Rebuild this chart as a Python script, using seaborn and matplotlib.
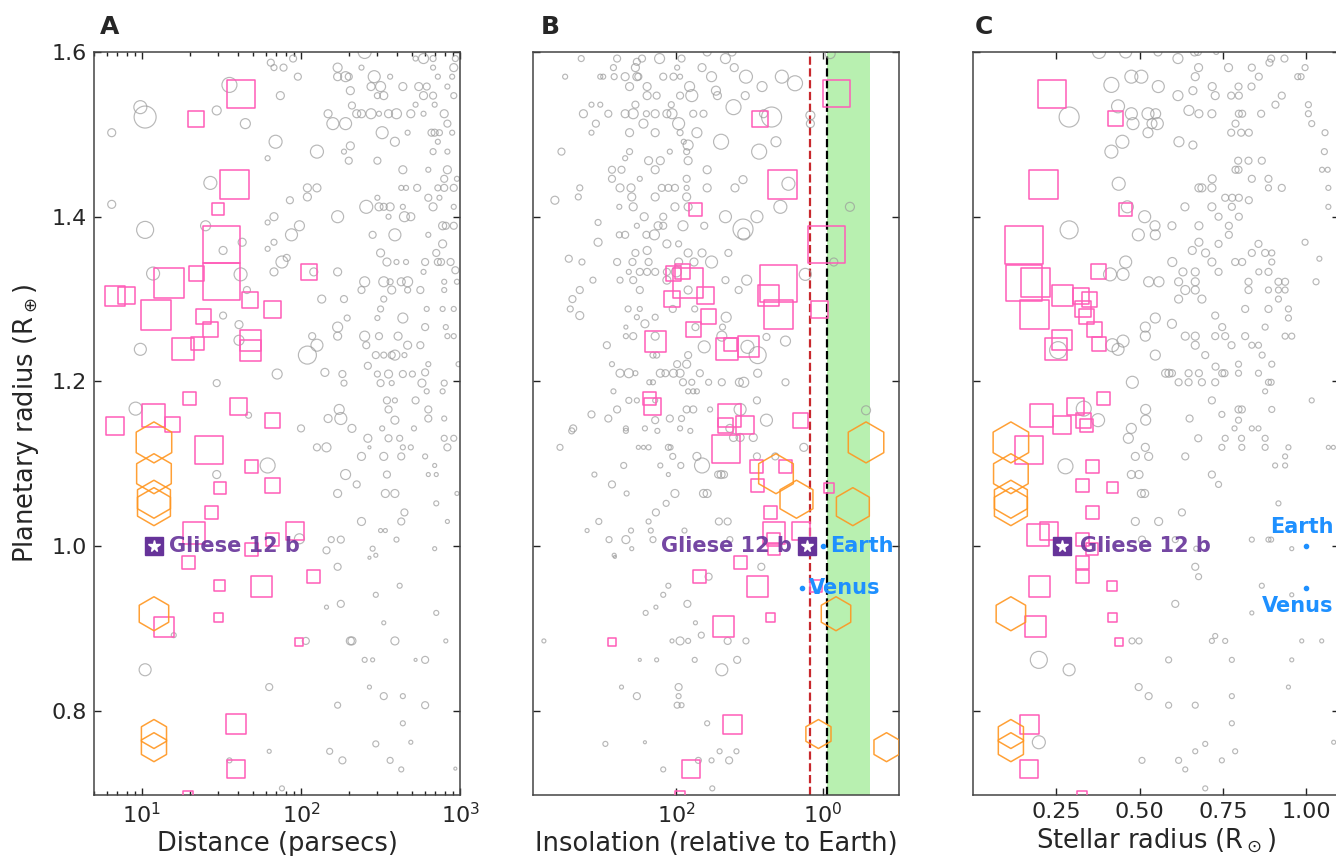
import numpy as np
import matplotlib
matplotlib.use("Agg")
import matplotlib.pyplot as plt
from matplotlib.ticker import NullLocator
import seaborn as sns

# ---------------- data ----------------
# panel A: known planets, log10 distance (pc), radius (R_earth), marker size class
a_logd = [1.81,1.83,1.89,1.95,1.98,1.87,2.40,2.23,2.23,2.28,
          2.30,2.38,2.46,2.56,2.44,2.50,2.48,2.52,2.31,2.64,
          2.74,2.79,2.77,2.83,2.72,2.83,2.96,2.97,2.86,2.95,
          2.77,2.83,2.72,2.84,2.96,2.92,2.17,2.20,2.28,2.32,
          2.35,2.38,2.44,2.49,2.55,2.60,2.69,2.77,2.90,2.92,
          1.84,2.10,1.65,1.47,1.55,0.99,1.02,0.81,1.79,2.51,
          2.59,2.67,2.82,2.84,2.87,2.95,2.31,2.27,2.30,2.48,
          2.83,2.92,2.86,2.64,2.80,2.92,2.90,2.98,2.63,2.66,
          2.73,2.86,2.90,2.96,2.04,2.10,2.04,1.93,1.43,0.81,
          2.48,2.80,2.87,2.41,2.49,2.52,2.56,2.64,2.83,2.96,
          2.23,2.55,2.65,2.69,1.83,1.79,1.99,1.94,1.02,1.40,
          1.51,1.63,2.89,2.91,2.96,2.45,2.59,2.80,1.83,1.79,
          1.88,1.91,1.83,2.23,2.50,2.54,2.60,2.66,2.78,2.89,
          2.85,2.86,2.88,2.94,2.97,2.77,1.07,1.62,2.08,2.13,
          2.27,2.40,2.38,2.52,2.56,2.57,2.63,2.67,2.67,2.75,
          2.90,2.90,2.98,2.29,2.52,2.50,2.48,2.64,2.79,2.89,
          2.96,1.66,1.51,1.61,2.23,2.23,2.07,2.10,2.04,2.40,
          2.49,2.61,2.67,2.75,2.78,2.91,2.92,2.96,2.41,2.47,
          2.52,2.57,2.59,2.65,2.42,2.80,2.99,0.99,1.61,1.85,
          2.15,2.26,2.27,2.48,2.55,2.64,2.70,2.78,2.76,2.79,
          2.90,2.89,1.47,2.50,2.57,0.96,1.67,2.24,2.17,2.25,
          2.54,2.59,2.55,2.72,2.80,2.80,2.90,2.59,2.51,2.71,
          2.32,2.00,2.42,2.55,2.62,2.90,2.96,2.10,2.16,2.43,
          2.64,2.69,2.92,2.38,2.52,2.63,2.78,1.79,1.47,2.28,
          2.54,2.80,2.85,2.84,2.35,2.23,2.53,2.59,2.85,2.98,
          2.65,2.38,2.63,2.92,2.50,2.53,2.19,2.25,1.99,2.60,
          2.16,2.45,2.47,2.43,2.84,2.23,2.62,2.47,2.16,2.25,
          2.52,2.85,2.31,2.32,2.59,2.91,2.03,1.20,1.02,2.40,
          2.45,2.72,2.78,1.80,2.43,2.52,2.64,2.23,2.78,2.64,
          2.69,2.47,1.80,2.18,2.26,2.56,2.63,2.97,1.55,1.88]
a_rad = [1.587,1.581,1.581,1.592,1.570,1.547,1.600,1.581,1.570,1.570,
         1.570,1.581,1.570,1.570,1.558,1.558,1.547,1.547,1.553,1.558,
         1.558,1.558,1.592,1.592,1.592,1.581,1.581,1.592,1.570,1.570,
         1.547,1.547,1.536,1.536,1.547,1.558,1.525,1.513,1.513,1.535,
         1.525,1.525,1.525,1.525,1.525,1.525,1.525,1.525,1.525,1.513,
         1.491,1.479,1.513,1.529,1.560,1.533,1.521,1.502,1.471,1.502,
         1.491,1.502,1.502,1.502,1.502,1.502,1.486,1.479,1.468,1.468,
         1.479,1.479,1.491,1.457,1.457,1.457,1.446,1.446,1.435,1.435,
         1.435,1.435,1.435,1.435,1.435,1.435,1.424,1.420,1.441,1.415,
         1.423,1.423,1.423,1.412,1.412,1.412,1.412,1.412,1.412,1.412,
         1.400,1.400,1.400,1.400,1.400,1.393,1.389,1.378,1.384,1.389,
         1.359,1.369,1.389,1.389,1.389,1.378,1.378,1.378,1.369,1.361,
         1.345,1.350,1.333,1.333,1.356,1.345,1.345,1.345,1.345,1.367,
         1.356,1.345,1.345,1.345,1.335,1.333,1.331,1.330,1.333,1.300,
         1.300,1.321,1.311,1.321,1.321,1.311,1.321,1.321,1.311,1.311,
         1.321,1.311,1.321,1.277,1.300,1.288,1.277,1.277,1.288,1.288,
         1.288,1.311,1.280,1.269,1.266,1.255,1.255,1.244,1.232,1.255,
         1.255,1.255,1.244,1.244,1.266,1.266,1.255,1.255,1.244,1.232,
         1.232,1.232,1.232,1.232,1.219,1.221,1.221,1.239,1.250,1.209,
         1.211,1.209,1.198,1.209,1.209,1.209,1.209,1.211,1.198,1.188,
         1.198,1.188,1.198,1.198,1.198,1.167,1.159,1.166,1.155,1.155,
         1.177,1.177,1.166,1.177,1.166,1.155,1.155,1.153,1.143,1.143,
         1.143,1.143,1.131,1.131,1.131,1.131,1.131,1.120,1.120,1.120,
         1.120,1.120,1.120,1.109,1.109,1.109,1.109,1.098,1.087,1.087,
         1.087,1.087,1.087,1.098,1.075,1.064,1.064,1.064,1.052,1.064,
         1.041,1.030,1.030,1.030,1.019,1.019,1.008,1.008,1.009,1.008,
         0.995,0.997,0.989,0.986,0.997,0.975,0.952,0.941,0.926,0.930,
         0.907,0.919,0.885,0.885,0.885,0.885,0.885,0.892,0.850,0.862,
         0.862,0.862,0.862,0.829,0.829,0.818,0.818,0.807,0.807,0.785,
         0.762,0.760,0.751,0.751,0.740,0.740,0.729,0.730,0.740,0.706]
a_size = [7,6,7,7,7,8,13,9,8,10, 7,5,12,5,8,10,6,8,8,8, 8,7,10,6,5,5,8,6,5,5,
          8,7,5,5,6,5,8,12,12,7, 8,8,10,5,8,10,8,5,8,7, 13,13,10,9,15,13,22,8,5,12,
          9,5,7,7,6,5,8,5,7,7, 6,5,5,8,5,8,7,5,5,5, 7,6,7,7,8,8,8,7,13,8,
          5,7,5,13,8,7,8,5,8,5, 12,5,10,8,8,5,10,12,17,10, 8,8,8,7,7,7,12,5,6,5,
          12,7,8,8,8,8,5,5,7,8, 7,7,7,7,7,5,13,13,8,8, 7,10,7,10,6,8,8,10,6,7,
          5,5,5,6,6,6,5,10,5,5, 5,7,7,8,10,8,7,12,18,10, 7,8,8,7,7,5,5,5,7,7,
          6,7,10,5,7,5,5,12,10,10, 8,7,6,6,8,7,6,7,8,5, 6,5,7,7,5,13,6,10,8,12,
          7,5,7,7,7,7,5,8,5,5, 8,7,8,7,6,6,6,7,9,3, 5,5,7,8,8,7,5,15,8,10,
          7,4,4,4,7,8,8,8,5,4, 7,8,7,4,4,4,6,7,10,5, 7,5,4,3,4,7,5,5,4,7,
          4,5,8,8,8,4,7,5,12,5, 4,3,7,7,4,7,5,6,7,5, 4,6,4,6,7,6,5,3,5,5]

# panel B: log10 insolation (S_earth)
b_logs = [3.30,2.81,2.54,2.47,2.23,1.93,1.58,1.33,1.24,-0.10,
          2.86,2.56,1.99,1.65,1.52,1.21,1.05,0.83,0.56,0.38,
          3.52,3.04,3.00,2.85,2.70,2.54,2.52,2.18,2.04,1.95,
          1.82,1.79,2.64,2.40,2.27,2.40,1.95,1.46,1.44,1.06,
          3.16,3.04,2.56,2.07,3.27,2.93,2.70,2.59,2.41,2.29,
          2.13,2.06,1.97,1.77,1.63,1.22,0.70,0.17,0.81,3.10,
          2.45,3.16,2.64,2.29,1.95,1.72,1.90,1.84,1.39,0.87,
          0.64,0.17,3.57,2.64,2.70,2.38,2.22,2.09,1.86,1.84,
          1.58,1.09,1.20,0.47,0.58,2.88,2.75,2.29,2.88,2.50,
          1.86,1.58,3.32,2.77,2.62,2.20,2.11,2.02,1.86,1.86,
          3.66,3.34,2.61,2.29,2.02,2.78,2.59,1.84,2.44,2.18,
          1.33,0.90,-0.37,3.07,2.54,2.25,2.18,1.91,1.62,1.09,
          1.08,2.78,2.70,2.41,2.30,2.13,1.97,3.07,3.47,3.29,
          2.81,2.60,2.56,2.40,2.38,1.97,1.84,1.76,1.65,1.52,
          1.29,-0.15,0.24,2.65,2.50,2.40,2.29,2.13,2.00,1.33,
          1.04,1.15,3.14,2.77,2.59,2.50,2.13,1.84,2.05,1.75,
          3.45,3.32,3.42,3.32,2.66,2.50,2.54,2.43,2.29,1.74,
          1.37,1.32,2.69,2.69,2.59,2.29,1.38,1.62,1.03,0.89,
          0.51,0.77,2.95,1.84,2.32,2.27,2.88,1.99,1.86,2.77,
          2.65,2.56,2.22,2.15,2.04,1.95,1.68,1.91,1.79,1.56,
          1.38,1.14,1.08,0.89,0.51,2.37,2.32,2.86,1.84,1.77,
          1.72,2.54,2.29,2.65,1.13,0.90,2.81,1.86,1.77,1.54,
          3.16,2.93,2.29,2.09,1.93,0.77,-0.59,3.41,2.69,2.43,
          1.95,1.27,3.43,2.69,2.26,1.81,3.59,2.52,2.45,2.38,
          2.11,2.08,1.72,1.65,1.22,1.13,0.95,0.90,0.65,0.26,
          2.72,2.22,2.05,1.94,3.12,2.11,1.43,1.39,1.35,2.88,
          2.68,2.02,1.63,1.58,2.14,2.28,3.06,2.38,1.42,1.30,
          3.22,2.62,2.35,1.89,2.92,2.69,2.32,1.27,2.61,2.85,
          2.84,0.84,1.56,2.11,2.18,2.28,2.42,1.85,1.74,1.66,
          3.81,2.06,1.95,1.84,1.30,1.05,2.50,2.27,1.75,1.17,
          1.38,2.75,1.97,2.54,1.97,1.99,1.93,1.58,2.97,2.43,
          1.41,1.18,1.70,1.52,1.28,2.18,1.51]
b_rad = [1.592,1.592,1.588,1.592,1.592,1.592,1.600,1.592,1.600,1.598,
         1.581,1.581,1.581,1.581,1.570,1.581,1.570,1.558,1.570,1.562,
         1.570,1.570,1.570,1.570,1.570,1.570,1.570,1.570,1.570,1.570,
         1.558,1.547,1.558,1.558,1.547,1.547,1.547,1.553,1.547,1.547,
         1.536,1.536,1.536,1.536,1.525,1.525,1.525,1.525,1.525,1.525,
         1.525,1.525,1.513,1.525,1.525,1.533,1.521,1.523,1.525,1.513,
         1.513,1.502,1.502,1.502,1.502,1.502,1.491,1.487,1.491,1.479,
         1.491,1.513,1.479,1.479,1.471,1.468,1.468,1.479,1.479,1.468,
         1.457,1.445,1.435,1.440,1.412,1.457,1.457,1.457,1.446,1.446,
         1.446,1.435,1.435,1.435,1.435,1.435,1.435,1.435,1.435,1.424,
         1.420,1.424,1.424,1.424,1.412,1.412,1.412,1.412,1.400,1.400,
         1.400,1.400,1.412,1.393,1.389,1.389,1.389,1.389,1.389,1.385,
         1.379,1.378,1.378,1.378,1.378,1.367,1.367,1.369,1.349,1.345,
         1.345,1.345,1.356,1.359,1.345,1.345,1.356,1.345,1.356,1.345,
         1.356,1.345,1.330,1.333,1.333,1.333,1.333,1.333,1.333,1.323,
         1.323,1.311,1.323,1.323,1.323,1.311,1.323,1.311,1.288,1.288,
         1.288,1.311,1.300,1.280,1.288,1.288,1.278,1.270,1.278,1.266,
         1.266,1.278,1.266,1.255,1.255,1.255,1.255,1.242,1.242,1.232,
         1.249,1.254,1.244,1.232,1.232,1.232,1.221,1.221,1.221,1.210,
         1.210,1.210,1.210,1.210,1.210,1.210,1.210,1.199,1.199,1.199,
         1.199,1.199,1.199,1.210,1.199,1.199,1.199,1.188,1.188,1.188,
         1.188,1.177,1.177,1.177,1.166,1.177,1.166,1.166,1.166,1.166,
         1.160,1.155,1.153,1.155,1.155,1.153,1.165,1.143,1.143,1.143,
         1.143,1.143,1.140,1.140,1.140,1.140,1.120,1.120,1.120,1.120,
         1.120,1.120,1.109,1.098,1.132,1.132,1.132,1.109,1.109,1.120,
         1.098,1.098,1.109,1.098,1.087,1.087,1.087,1.087,1.087,1.075,
         1.064,1.064,1.064,1.064,1.052,1.041,1.030,1.030,1.030,1.030,
         1.019,1.019,1.019,1.019,1.008,1.008,1.008,1.008,0.997,0.989,
         0.987,0.975,0.963,0.952,0.941,0.926,0.919,0.930,0.907,0.892,
         0.885,0.885,0.885,0.885,0.885,0.885,0.862,0.862,0.862,0.862,
         0.850,0.829,0.829,0.818,0.818,0.807,0.807,0.785,0.760,0.762,
         0.751,0.751,0.740,0.740,0.740,0.729,0.706]
b_size = [6,7,7,7,10,7,8,10,8,10, 6,8,5,8,10,8,13,10,13,15, 5,5,5,6,8,8,7,7,7,5,
          10,12,8,8,7,8,7,9,8,8, 5,5,7,6,8,7,8,10,6,8, 8,10,12,7,7,15,20,9,8,7,
          9,5,8,8,6,10,5,10,15,15, 10,8,7,6,5,8,8,5,6,8, 8,8,8,13,13,7,7,8,7,5,
          7,8,6,8,8,7,7,7,5,8, 8,6,8,8,8,5,8,8,8,7, 12,12,9,6,5,8,7,10,7,20,
          12,6,7,7,10,8,6,8,7,6, 7,7,7,8,7,8,8,8,8,12, 7,8,12,5,7,7,7,7,10,7,
          10,7,6,6,7,7,8,8,7,6, 6,7,7,8,6,5,5,8,6,7, 6,10,4,5,7,8,10,12,13,17,
          10,7,7,7,6,6,5,7,8,8, 9,5,8,7,8,8,7,7,6,6, 7,8,10,8,7,5,5,5,5,5,
          5,5,5,6,12,7,7,7,7,5, 7,7,7,7,6,12,9,7,5,5, 5,8,6,5,5,5,6,4,4,5,
          6,5,8,15,8,8,8,7,7,8, 6,5,6,6,5,4,7,8,7,7, 5,8,8,8,6,7,6,5,7,7,
          4,5,5,5,6,8,6,6,4,4, 3,7,7,5,5,4,5,7,4,6, 4,4,8,5,7,6,3,4,5,7,
          12,4,7,7,5,6,5,5,5,3, 5,5,6,5,7,5,5]

# panel C: stellar radius (R_sun)
c_rstar = [0.378,0.458,0.555,0.615,0.665,0.675,0.730,0.895,0.890,0.935,
           0.677,0.767,0.837,0.997,0.858,0.667,0.975,0.985,0.415,0.475,
           0.505,0.556,0.615,0.660,0.718,0.727,0.775,0.797,0.798,0.836,
           0.927,0.908,1.007,1.007,1.017,1.057,1.055,0.288,0.435,0.475,
           0.525,0.548,0.553,0.537,0.480,0.525,0.648,0.678,0.717,0.788,
           0.798,0.808,0.865,0.775,0.805,0.828,0.448,0.415,0.618,0.660,
           0.796,0.827,0.867,0.788,0.797,1.048,1.065,1.067,1.067,0.437,
           0.718,0.837,0.887,0.887,0.678,0.687,0.717,0.927,0.757,0.778,
           0.798,0.828,0.463,0.636,0.717,0.777,0.737,0.798,0.515,0.546,
           0.547,0.597,0.678,0.768,0.768,0.496,0.288,0.678,0.658,0.737,
           0.698,0.857,0.837,0.877,0.897,0.897,0.997,1.040,0.598,0.458,
           0.450,0.411,0.630,0.667,0.717,0.737,0.787,0.808,0.887,0.858,
           0.527,0.558,0.617,0.667,0.637,0.667,0.617,0.687,0.827,0.827,
           0.917,0.937,0.887,0.917,0.937,1.030,0.917,0.727,0.817,0.887,
           0.947,0.947,0.547,0.517,0.517,0.597,0.748,0.727,0.757,0.817,
           0.877,0.937,0.957,0.637,0.667,0.667,0.776,0.837,0.857,0.868,
           0.697,0.547,0.418,0.435,0.450,0.255,0.578,0.588,0.597,0.617,
           0.647,0.647,0.678,0.687,0.727,0.728,0.748,0.755,0.797,0.797,
           0.857,0.897,0.887,0.895,0.877,1.017,0.717,0.797,0.807,0.897,
           0.747,0.797,0.650,0.518,0.518,0.478,0.475,0.332,0.375,0.785,
           0.837,0.857,0.466,0.517,0.487,0.527,0.637,0.676,0.757,0.806,
           0.877,0.747,0.807,0.877,0.947,0.937,0.907,0.937,1.067,1.082,
           0.277,0.475,0.498,0.717,0.737,0.505,0.515,0.917,0.627,0.487,
           0.557,0.507,0.607,0.837,0.887,0.895,0.957,0.670,0.667,0.677,
           0.867,0.957,0.837,0.607,0.477,0.498,0.717,0.727,0.757,0.987,
           1.047,0.197,0.288,0.587,0.777,0.957,0.497,0.527,0.587,0.667,
           0.777,0.947,0.777,0.197,0.697,0.667,0.787,0.507,0.617,0.747,
           0.637,0.697,1.083]
c_rad = [1.600,1.600,1.600,1.592,1.600,1.600,1.600,1.592,1.587,1.592,
         1.581,1.581,1.581,1.581,1.570,1.570,1.570,1.570,1.560,1.570,
         1.570,1.558,1.547,1.553,1.558,1.547,1.547,1.558,1.547,1.558,
         1.547,1.536,1.536,1.525,1.513,1.502,1.479,1.521,1.534,1.525,
         1.525,1.525,1.513,1.513,1.513,1.502,1.529,1.525,1.525,1.513,
         1.525,1.525,1.525,1.502,1.502,1.502,1.491,1.479,1.491,1.487,
         1.468,1.468,1.468,1.457,1.457,1.457,1.457,1.435,1.412,1.440,
         1.446,1.446,1.446,1.435,1.435,1.435,1.435,1.435,1.423,1.423,
         1.423,1.420,1.412,1.412,1.412,1.412,1.400,1.400,1.400,1.389,
         1.378,1.389,1.389,1.389,1.378,1.378,1.384,1.369,1.359,1.367,
         1.356,1.367,1.356,1.356,1.356,1.345,1.369,1.349,1.345,1.345,
         1.330,1.330,1.333,1.333,1.345,1.333,1.345,1.345,1.333,1.333,
         1.321,1.321,1.321,1.321,1.311,1.311,1.300,1.300,1.321,1.311,
         1.321,1.321,1.311,1.311,1.311,1.321,1.300,1.280,1.288,1.288,
         1.288,1.277,1.277,1.266,1.255,1.270,1.266,1.255,1.255,1.255,
         1.266,1.255,1.255,1.255,1.255,1.244,1.244,1.244,1.244,1.232,
         1.232,1.232,1.244,1.239,1.249,1.238,1.210,1.210,1.210,1.199,
         1.210,1.199,1.210,1.199,1.199,1.218,1.210,1.210,1.221,1.210,
         1.210,1.221,1.199,1.199,1.188,1.177,1.177,1.166,1.166,1.166,
         1.160,1.153,1.155,1.166,1.153,1.199,1.143,1.167,1.153,1.143,
         1.143,1.143,1.131,1.120,1.109,1.109,1.109,1.131,1.131,1.131,
         1.131,1.120,1.120,1.120,1.120,1.109,1.098,1.098,1.120,1.120,
         1.097,1.087,1.087,1.087,1.075,1.064,1.064,1.052,1.041,1.030,
         1.030,1.008,1.008,1.008,1.008,1.008,0.997,0.997,0.975,0.963,
         0.952,0.941,0.919,0.930,0.885,0.885,0.885,0.891,0.885,0.885,
         0.885,0.862,0.850,0.862,0.862,0.862,0.829,0.818,0.807,0.807,
         0.818,0.829,0.785,0.762,0.760,0.751,0.751,0.740,0.740,0.740,
         0.729,0.706,0.762]
c_size = [13,12,8,10,8,7,5,7,7,7, 8,8,7,6,7,8,6,6,15,13, 13,12,10,8,8,8,7,7,7,7,
          7,7,6,6,6,6,6,20,13,12, 12,10,12,10,12,10,10,8,8,7, 7,7,7,7,7,7,13,13,10,8,
          7,7,7,7,7,5,5,5,5,13, 8,7,7,6,8,8,8,7,7,7, 7,7,12,8,8,7,7,7,12,10,
          10,8,8,7,7,12,18,8,8,7, 8,7,7,7,6,6,6,5,9,12, 12,13,8,8,8,7,7,7,7,6,
          10,10,8,8,9,8,8,8,7,7, 7,7,6,6,6,6,6,7,7,7, 6,6,10,10,10,9,7,7,7,7,
          6,6,6,8,8,8,7,6,6,6, 7,10,13,12,12,17,8,8,7,7, 7,7,7,7,7,7,7,7,6,6,
          6,6,6,6,5,5,7,7,7,6, 6,6,7,10,10,12,10,15,13,5, 5,5,10,8,8,8,7,7,6,6,
          6,6,6,6,5,5,5,5,4,4, 15,8,8,7,6,8,8,5,7,8, 8,7,6,5,5,5,4,5,7,6,
          5,4,4,7,6,6,5,5,5,4, 4,17,12,6,5,4,7,7,6,6, 5,4,5,13,5,5,5,6,6,5,
          5,5,4]

# small planets around M dwarfs (pink squares)
a_sq_logd = [1.62,1.34,1.58,1.48,1.50,1.50,1.17,1.34,2.05,0.83, 0.90,1.09,1.68,1.82,1.39,1.43,1.35,1.26,1.68,1.68,
             1.30,1.61,1.82,0.83,1.07,1.19,1.42,1.69,1.82,1.49, 1.44,1.33,1.96,1.82,1.69,1.29,2.08,1.49,1.75,1.48,
             1.14,1.99,1.59,1.59,1.29]
a_sq_rad = [1.549,1.519,1.439,1.409,1.366,1.321,1.320,1.331,1.333,1.304, 1.304,1.281,1.299,1.287,1.279,1.263,1.246,1.239,1.250,1.238,
            1.179,1.169,1.153,1.146,1.159,1.148,1.117,1.097,1.074,1.071, 1.041,1.016,1.019,1.008,0.996,0.980,0.963,0.952,0.951,0.914,
            0.902,0.884,0.784,0.729,0.697]
a_sq_size = [28,16,29,12,37,37,30,15,16,20, 17,30,16,17,15,15,13,22,21,21, 13,17,15,18,23,15,28,13,15,12,
             13,22,18,13,13,13,13,11,21,9, 20,8,20,18,10]
b_sq_logs = [-0.18,0.86,0.55,1.74,-0.05,0.61,0.74,0.61,0.05,1.84, 2.04,1.91,2.06,1.60,1.56,1.77,2.29,1.31,1.26,1.02,
             2.37,2.32,1.27,1.33,1.06,0.31,1.32,0.91,0.51,0.89, -0.08,0.71,0.67,0.30,0.68,0.67,1.12,0.10,1.69,0.89,
             0.71,1.36,2.88,1.23,1.80,1.95]
b_sq_rad = [1.549,1.519,1.439,1.409,1.366,1.319,1.304,1.281,1.287,1.319, 1.331,1.333,1.300,1.304,1.279,1.263,1.249,1.240,1.245,1.242,
            1.179,1.169,1.159,1.147,1.147,1.153,1.118,1.097,1.097,1.074, 1.071,1.041,1.016,1.019,1.008,0.996,0.980,0.952,0.963,0.951,
            0.914,0.902,0.884,0.784,0.729,0.697]
b_sq_size = [27,16,29,13,37,37,21,29,17,30, 15,15,16,17,15,15,21,22,13,21, 13,17,23,15,18,15,28,13,13,13,
             10,13,22,18,13,12,13,12,13,21, 9,21,8,19,18,10]
c_sq_rstar = [0.238,0.426,0.210,0.458,0.153,0.153,0.187,0.184,0.268,0.325, 0.348,0.330,0.340,0.363,0.377,0.268,0.248,0.377,0.390,0.307,
              0.205,0.268,0.330,0.340,0.168,0.357,0.328,0.418,0.358,0.195, 0.228,0.328,0.357,0.328,0.328,0.418,0.199,0.418,0.187,0.438,
              0.168,0.168,0.328]
c_sq_rad = [1.549,1.519,1.439,1.409,1.366,1.320,1.320,1.281,1.304,1.304, 1.300,1.288,1.279,1.263,1.246,1.250,1.240,1.333,1.179,1.169,
            1.159,1.147,1.152,1.147,1.117,1.097,1.074,1.071,1.041,1.013, 1.019,1.008,0.996,0.980,0.963,0.952,0.951,0.914,0.902,0.884,
            0.784,0.729,0.697]
c_sq_size = [28,15,29,13,38,36,29,29,21,16, 15,16,15,15,14,20,22,15,13,17, 23,18,15,13,28,13,13,11,13,22,
             18,13,12,13,13,10,21,9,21,8, 19,18,10]

# TRAPPIST-1 planets (orange hexagons)
trap_rad = [1.126, 1.088, 1.057, 1.048, 0.918, 0.772, 0.756]
trap_logs = [-0.59, 0.64, 0.36, -0.41, -0.18, 0.06, -0.87]
trap_size = [41, 40, 38, 38, 34, 29, 29]
trap_dist = 11.9
trap_rstar = 0.113

# Gliese 12 b, Earth, Venus
g12_dist, g12_insol, g12_rstar, g12_rad = 11.9, 1.62, 0.267, 1.0
earth_insol, earth_rad = 1.0, 1.0
venus_insol, venus_rad = 1.91, 0.949
sun_rstar = 1.0
hz_inner, hz_outer, recent_venus = 0.88, 0.225, 1.49

# ---------------- style ----------------
sns.set_style("ticks", {"xtick.direction": "in", "ytick.direction": "in"})
plt.rcParams["font.family"] = ["DejaVu Sans"]

GRAY = "#9a9a9a"
PINK = "#ff5cb8"
ORANGE = "#ff9620"
PURPLE = "#663399"
BLUE = "#1e90ff"
PX2PT = 0.72  # dpi 100


def msize(v):
    return (np.asarray(v, dtype=float) * PX2PT) ** 2


def draw_points(ax, gx, gy, gs, qx, qy, qs, hx, hy, hs):
    sns.scatterplot(x=gx, y=gy, s=msize(gs), marker="o", facecolor="none",
                    edgecolor=GRAY, linewidth=0.85, alpha=0.7, legend=False, ax=ax, zorder=2)
    sns.scatterplot(x=qx, y=qy, s=msize(qs), marker="s", facecolor="none",
                    edgecolor=PINK, linewidth=1.1, legend=False, ax=ax, zorder=3)
    sns.scatterplot(x=hx, y=hy, s=msize(hs), marker="h", facecolor="none",
                    edgecolor=ORANGE, linewidth=1.1, alpha=0.9, legend=False, ax=ax, zorder=4)


def gliese(ax, x, dx, ha):
    ax.plot(x, g12_rad, marker="s", ms=12.5, color=PURPLE, ls="none", zorder=6)
    ax.plot(x, g12_rad, marker="*", ms=8.5, color="white", mec="white", ls="none", zorder=7)
    ax.annotate("Gliese 12 b", xy=(x, g12_rad), xytext=(dx, 0), textcoords="offset points",
                ha=ha, va="center", fontsize=15, fontweight="bold", color=PURPLE, alpha=0.9, zorder=8)


fig = plt.figure(figsize=(13.36, 8.56), dpi=100)
axA = fig.add_axes([0.0704, 0.0713, 0.274, 0.868])
axB = fig.add_axes([0.3992, 0.0713, 0.274, 0.868])
axC = fig.add_axes([0.7285, 0.0713, 0.274, 0.868])

# A: distance
draw_points(axA, 10 ** np.array(a_logd), a_rad, a_size,
            10 ** np.array(a_sq_logd), a_sq_rad, a_sq_size,
            [trap_dist] * len(trap_rad), trap_rad, trap_size)
gliese(axA, g12_dist, 11, "left")
axA.set_xscale("log")
axA.set_xlim(5, 1000)
axA.set_xlabel("Distance (parsecs)", fontsize=18.5, labelpad=3)
axA.set_ylabel(r"Planetary radius (R$_\oplus$)", fontsize=18.5, labelpad=8)

# B: insolation
axB.axvspan(hz_outer, hz_inner, color="#b8f0b0", lw=0, zorder=0)
axB.axvline(recent_venus, color="#c8282d", ls="--", lw=1.6, zorder=1)
axB.axvline(hz_inner, color="black", ls="--", lw=1.6, zorder=1)
draw_points(axB, 10 ** np.array(b_logs), b_rad, b_size,
            10 ** np.array(b_sq_logs), b_sq_rad, b_sq_size,
            10 ** np.array(trap_logs), trap_rad, trap_size)
gliese(axB, g12_insol, -11, "right")
for sx, ry, name in [(earth_insol, earth_rad, "Earth"), (venus_insol, venus_rad, "Venus")]:
    axB.plot(sx, ry, "o", ms=3, color=BLUE, zorder=6)
    axB.annotate(name, xy=(sx, ry), xytext=(5, 0), textcoords="offset points", ha="left",
                 va="center", fontsize=15, fontweight="bold", color=BLUE, zorder=8)
axB.set_xscale("log")
axB.set_xlim(9000, 0.09)
axB.set_xticks([100, 1])
axB.xaxis.set_minor_locator(NullLocator())
axB.set_xlabel("Insolation (relative to Earth)", fontsize=18.5, labelpad=3)

# C: stellar radius
draw_points(axC, c_rstar, c_rad, c_size, c_sq_rstar, c_sq_rad, c_sq_size,
            [trap_rstar] * len(trap_rad), trap_rad, trap_size)
gliese(axC, g12_rstar, 13, "left")
for ry, name, off in [(earth_rad, "Earth", (-3, 14)), (venus_rad, "Venus", (-6, -13))]:
    axC.plot(sun_rstar, ry, "o", ms=3, color=BLUE, zorder=6)
    axC.annotate(name, xy=(sun_rstar, ry), xytext=off, textcoords="offset points", ha="center",
                 va="center", fontsize=15, fontweight="bold", color=BLUE, zorder=8)
axC.set_xlim(0, 1.1)
axC.set_xticks([0.25, 0.5, 0.75, 1.0])
axC.set_xticklabels(["0.25", "0.50", "0.75", "1.00"])
axC.set_xlabel(r"Stellar radius (R$_\odot$)", fontsize=18.5, labelpad=3)

for ax, letter, lx in [(axA, "A", 0.016), (axB, "B", 0.02), (axC, "C", 0.005)]:
    ax.set_ylim(0.698, 1.6)
    ax.set_yticks([0.8, 1.0, 1.2, 1.4, 1.6])
    ax.tick_params(which="both", direction="in", top=True, right=True, labelsize=16,
                   width=1, pad=5, color="#222222")
    ax.tick_params(which="major", length=5)
    ax.tick_params(which="minor", length=3)
    for sp in ax.spines.values():
        sp.set_color("#444444")
        sp.set_linewidth(1.1)
    ax.text(lx, 1.024, letter, transform=ax.transAxes, fontsize=18, fontweight="bold",
            ha="left", va="baseline")
    if ax is not axA:
        ax.tick_params(labelleft=False)

fig.savefig("out.png", dpi=100)
